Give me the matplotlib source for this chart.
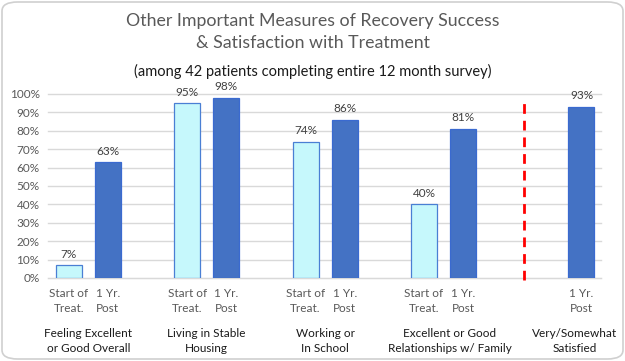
import numpy as np
import matplotlib.pyplot as plt
from matplotlib.patches import FancyBboxPatch

plt.rcParams["font.family"] = ["Lato", "DejaVu Sans"]

groups = ["Feeling Excellent\nor Good Overall", "Living in Stable\nHousing",
          "Working or\nIn School", "Excellent or Good\nRelationships w/ Family",
          "Very/Somewhat\nSatisfied"]
start_vals = [7, 95, 74, 40, None]
post_vals = [63, 98, 86, 81, 93]
start_label = "Start of\nTreat."
post_label = "1 Yr.\nPost"
y_ticks = list(range(0, 101, 10))

title = "Other Important Measures of Recovery Success\n& Satisfaction with Treatment"
subtitle = "(among 42 patients completing entire 12 month survey)"

W, H = 625, 361
fig = plt.figure(figsize=(W / 100, H / 100), dpi=100)
ax = fig.add_axes([48 / W, 1 - 278 / H, (601 - 48) / W, (278 - 94) / H])

off = 0.165
width = 0.22
x = np.arange(len(groups))

# the satisfaction group only has a 1 yr value
xs_start, vs_start = [], []
for i, v in enumerate(start_vals):
    if v is not None:
        xs_start.append(x[i] - off)
        vs_start.append(v)
xs_post = x + off

b1 = ax.bar(xs_start, vs_start, width, color="#c6f8fc", edgecolor="#4a7fd4", linewidth=0.9, zorder=3)
b2 = ax.bar(xs_post, post_vals, width, color="#4472c4", edgecolor="#3a6ad0", linewidth=0.9, zorder=3)
for bars, vals in ((b1, vs_start), (b2, post_vals)):
    for r, v in zip(bars, vals):
        ax.text(r.get_x() + r.get_width() / 2, v + 3, f"{v}%", ha="center", va="bottom",
                fontsize=8.5, color="#404040")

ax.axvline(3.68, ymin=-0.01, ymax=0.98, color="#ff0000", lw=2, ls=(0, (3.5, 2.5)), zorder=4,
           clip_on=False)

ax.set_xlim(-0.34, 4.33)
ax.set_ylim(0, 100)
ax.set_yticks(y_ticks)
ax.set_yticklabels([f"{t}%" for t in y_ticks], fontsize=8.5, color="#595959")
ax.yaxis.grid(True, color="#d9d9d9", lw=1, zorder=0, clip_on=False)
for gl in ax.get_ygridlines():
    gl.set_clip_on(False)
ax.set_axisbelow(True)
for s in ("top", "right", "left"):
    ax.spines[s].set_visible(False)
ax.spines["bottom"].set_color("#d9d9d9")
ax.tick_params(axis="y", length=0, pad=6)

tick_pos = list(xs_start) + list(xs_post)
tick_lab = [start_label] * len(xs_start) + [post_label] * len(xs_post)
ax.set_xticks(tick_pos)
ax.set_xticklabels(tick_lab, fontsize=8.5, color="#595959", linespacing=1.5)
ax.tick_params(axis="x", length=0, pad=7)

group_x = [0, 1, 2, 3.05, 4.11]
for gx, g in zip(group_x, groups):
    ax.text(gx, -27, g, ha="center", va="top", fontsize=8.5, color="#1a1a1a",
            linespacing=1.45, clip_on=False)

fig.text(0.5, 1 - 32 / H, title, ha="center", va="center", fontsize=12.8, color="#595959",
         linespacing=1.5)
fig.text(0.5, 1 - 71 / H, subtitle, ha="center", va="center", fontsize=10.5, color="#1a1a1a")

border = FancyBboxPatch((2 / W, 2 / H), 1 - 4 / W, 1 - 4 / H,
                        boxstyle="round,pad=0,rounding_size=0.025",
                        transform=fig.transFigure, fill=False, edgecolor="#d0d0d0", lw=1.2)
fig.patches.append(border)

fig.savefig("out.png", dpi=100)
